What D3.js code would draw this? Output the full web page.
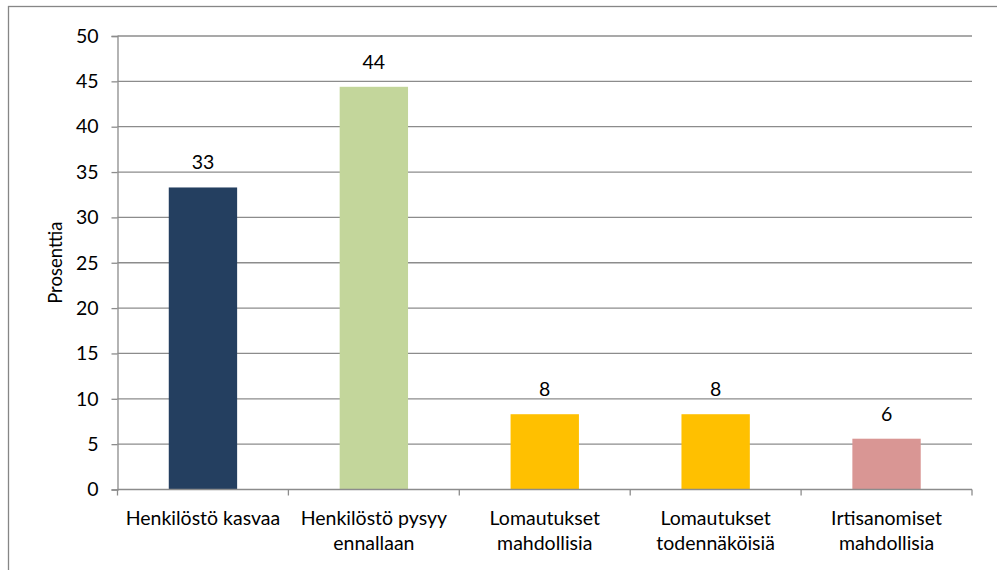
<!DOCTYPE html>
<html>
<head>
<meta charset="utf-8">
<script src="https://cdn.jsdelivr.net/npm/d3@7"></script>
<style>
  html, body { margin: 0; padding: 0; background: #fff; overflow: hidden; }
  text { font-family: Lato, "Open Sans", sans-serif; fill: #000; }
</style>
</head>
<body>
<div id="chart"></div>
<script>
// categories and values
const categories = [
  ["Henkilöstö kasvaa"],
  ["Henkilöstö pysyy", "ennallaan"],
  ["Lomautukset", "mahdollisia"],
  ["Lomautukset", "todennäköisiä"],
  ["Irtisanomiset", "mahdollisia"]
];
const values = [33.3, 44.4, 8.3, 8.3, 5.6];
const barColors = ["#243f60", "#c3d69b", "#ffc000", "#ffc000", "#d99694"];
const yTicks = [0, 5, 10, 15, 20, 25, 30, 35, 40, 45, 50];
const yTitle = "Prosenttia";

const width = 997, height = 570;
const margin = { top: 36, right: 25, bottom: 80.5, left: 117.5 };
const innerW = width - margin.left - margin.right;
const innerH = height - margin.top - margin.bottom;
const fontSize = "19.5px";

const svg = d3.select("#chart").append("svg")
  .attr("width", width)
  .attr("height", height);

// outer chart frame (runs off the right and bottom edges)
svg.append("rect")
  .attr("x", 8.5).attr("y", 6.5)
  .attr("width", width + 20).attr("height", height + 20)
  .attr("fill", "none")
  .attr("stroke", "#868686")
  .attr("stroke-width", 1.3);

const g = svg.append("g")
  .attr("transform", `translate(${margin.left},${margin.top})`);

const x = d3.scaleBand()
  .domain(d3.range(categories.length))
  .range([0, innerW])
  .paddingInner(0.6)
  .paddingOuter(0.3);

const y = d3.scaleLinear().domain([0, 50]).range([innerH, 0]);

// horizontal gridlines
g.append("g")
  .selectAll("line")
  .data(yTicks.filter(d => d > 0))
  .enter().append("line")
  .attr("x1", 0).attr("x2", innerW)
  .attr("y1", d => y(d)).attr("y2", d => y(d))
  .attr("stroke", "#8c8c8c")
  .attr("stroke-width", 1.3);

// y axis
const yAxis = g.append("g")
  .call(d3.axisLeft(y).tickValues(yTicks).tickSize(6).tickPadding(13));
yAxis.selectAll("path, line").attr("stroke", "#8c8c8c").attr("stroke-width", 1.3);
yAxis.selectAll("text")
  .style("font-family", "Lato, 'Open Sans', sans-serif")
  .style("font-size", fontSize)
  .attr("fill", "#000");

// bars
g.selectAll(".bar")
  .data(values)
  .enter().append("rect")
  .attr("class", "bar")
  .attr("x", (d, i) => x(i))
  .attr("y", d => y(d))
  .attr("width", x.bandwidth())
  .attr("height", d => innerH - y(d))
  .attr("fill", (d, i) => barColors[i]);

// value labels
g.selectAll(".lbl")
  .data(values)
  .enter().append("text")
  .attr("class", "lbl")
  .attr("x", (d, i) => x(i) + x.bandwidth() / 2)
  .attr("y", d => y(d) - 18)
  .attr("text-anchor", "middle")
  .style("font-size", fontSize)
  .text(d => d3.format(".0f")(d));

// x axis: baseline with category separators
const step = x.step();
const xAxis = g.append("g").attr("transform", `translate(0,${innerH})`);
xAxis.append("line")
  .attr("x1", 0).attr("x2", innerW)
  .attr("stroke", "#8c8c8c").attr("stroke-width", 1.3);
xAxis.selectAll(".sep")
  .data(d3.range(categories.length + 1))
  .enter().append("line")
  .attr("class", "sep")
  .attr("x1", d => d * step).attr("x2", d => d * step)
  .attr("y1", 0).attr("y2", 6)
  .attr("stroke", "#8c8c8c").attr("stroke-width", 1.3);

const catText = xAxis.selectAll(".cat")
  .data(categories)
  .enter().append("text")
  .attr("class", "cat")
  .attr("text-anchor", "middle")
  .attr("x", (d, i) => x(i) + x.bandwidth() / 2)
  .attr("y", 35)
  .style("font-size", fontSize);
catText.selectAll("tspan")
  .data(d => d)
  .enter().append("tspan")
  .attr("x", function () { return d3.select(this.parentNode).attr("x"); })
  .attr("dy", (d, i) => i === 0 ? 0 : 25)
  .text(d => d);

// y axis title
svg.append("text")
  .attr("transform", `translate(62,${margin.top + innerH / 2}) rotate(-90)`)
  .attr("text-anchor", "middle")
  .style("font-size", "18.5px")
  .text(yTitle);
</script>
</body>
</html>
